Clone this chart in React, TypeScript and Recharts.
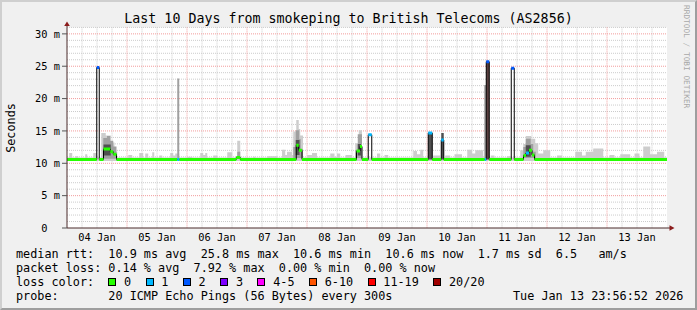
import React from 'react';
import { ComposedChart, Line, Area, XAxis, YAxis, CartesianGrid, ReferenceDot } from 'recharts';

// ---- axis / labels ----
const dayTicks = [12, 36, 60, 84, 108, 132, 156, 180, 204, 228];
const dayLabels = ['04 Jan', '05 Jan', '06 Jan', '07 Jan', '08 Jan', '09 Jan', '10 Jan', '11 Jan', '12 Jan', '13 Jan'];
const yTicks = [0, 5, 10, 15, 20, 25, 30];
const majorV = [24, 48, 72, 96, 120, 144, 168, 192, 216];
const minorV = [6, 12, 18, 30, 36, 42, 54, 60, 66, 78, 84, 90, 102, 108, 114, 126, 132, 138, 150, 156, 162, 174, 180, 186, 198, 204, 210, 222, 228, 234];
const majorH = [5, 10, 15, 20, 25, 30];
const minorH = [1, 2, 3, 4, 6, 7, 8, 9, 11, 12, 13, 14, 16, 17, 18, 19, 21, 22, 23, 24, 26, 27, 28, 29, 31];

// ---- loss classes ----
const lossLabels = ['0', '1', '2', '3', '4-5', '6-10', '11-19', '20/20'];
const lossColors = ['#26ff00', '#00b8ff', '#0059ff', '#7e00ff', '#ff00ff', '#ff5500', '#ff0000', '#a00000'];

// ---- median rtt (ms), change points in hours since 04 Jan 00:00 ----
const medT = [0, 11.9, 12.9, 14.6, 17.3, 18.5, 19.8, 44.1, 44.9, 67.7, 69.3, 91.7, 92.7, 94.0, 115.8, 117.2, 118.0, 120.5, 121.9, 144.5, 146.1, 149.7, 150.7, 167.1, 167.7, 168.9, 177.7, 178.9, 182.6, 183.6, 184.8, 186.0, 187.0, 240];
const medV = [10.6, 24.8, 10.6, 12.2, 11.8, 11.4, 10.6, 10.6, 10.6, 10.9, 10.6, 12.8, 12.0, 10.6, 11.9, 12.6, 10.6, 14.4, 10.6, 14.7, 10.6, 13.6, 10.6, 10.6, 25.7, 10.6, 24.7, 10.6, 11.2, 11.6, 12.0, 11.3, 10.6, 10.6];
const medLoss = [0, 2, 0, 0, 0, 0, 0, 1, 0, 0, 0, 0, 0, 0, 0, 0, 0, 1, 0, 1, 0, 1, 0, 1, 2, 0, 2, 0, 0, 1, 0, 0, 0, 0];

// ---- smoke: light outer band (upper edge), change points ----
const smokeFloor = 10.35;
const lightT = [0, 0.9, 2.1, 3.3, 4.5, 7.3, 8.1, 10.5, 11.9, 13.7, 15.5, 17.5, 19.0, 20.1, 24.5, 26.1, 28.9, 30.5, 31.3, 32.5, 34.1, 34.9, 36.9, 38.1, 41.3, 42.5, 43.3, 44.9, 48.1, 50.1, 53.3, 54.5, 55.3, 56.1, 58.5, 60.1, 64.1, 66.1, 68.1, 69.3, 74.5, 75.3, 80.1, 84.1, 86.0, 87.3, 88.0, 90.0, 90.5, 91.7, 92.7, 93.3, 94.4, 96.1, 98.0, 100.0, 105.3, 107.0, 108.0, 109.3, 111.4, 114.0, 115.3, 116.7, 118.0, 124.0, 125.3, 127.0, 128.5, 138.5, 140.0, 141.3, 142.5, 146.5, 149.3, 151.3, 153.3, 155.0, 158.0, 160.1, 162.0, 163.3, 166.5, 169.5, 171.0, 176.0, 177.5, 181.3, 182.5, 183.5, 185.7, 187.3, 188.5, 190.5, 193.3, 196.0, 198.0, 203.3, 206.0, 207.5, 210.5, 214.5, 217.0, 219.0, 221.3, 225.3, 227.0, 229.0, 230.5, 233.3, 236.0, 238.9, 240];
const lightHi = [10.9, 11.6, 10.9, 11.1, 10.9, 11.4, 10.9, 11.6, 10.9, 14.7, 14.3, 13.2, 11.8, 10.9, 11.3, 10.9, 11.6, 10.9, 11.5, 10.9, 11.7, 10.9, 11.2, 10.9, 11.6, 11.2, 11.5, 10.9, 11.0, 10.9, 11.6, 11.3, 11.6, 10.9, 11.2, 10.9, 11.7, 10.9, 13.5, 10.9, 11.0, 10.9, 11.1, 10.9, 12.1, 11.3, 11.8, 11.3, 14.9, 16.7, 15.3, 14.3, 10.9, 11.3, 11.6, 10.9, 11.5, 11.0, 11.5, 10.9, 11.3, 10.9, 13.1, 15.1, 10.9, 11.5, 10.9, 11.3, 10.9, 11.9, 11.4, 12.1, 10.9, 11.2, 10.9, 11.2, 10.9, 11.4, 10.9, 12.1, 11.5, 12.0, 10.9, 11.2, 10.9, 11.1, 10.9, 12.0, 13.0, 14.2, 13.8, 13.1, 11.5, 12.0, 10.9, 11.2, 10.9, 11.8, 11.2, 11.8, 12.3, 10.9, 11.3, 10.9, 11.4, 10.9, 11.5, 10.9, 12.6, 11.4, 11.8, 10.9, 10.9];

// ---- smoke: mid gray blocks ----
const midStart = [14.5, 16.0, 17.3, 18.5, 44.1, 68.1, 90.5, 91.5, 92.9, 93.5, 115.3, 116.3, 166.9, 182.5, 183.5, 185.5, 186.5];
const midEnd = [16.0, 17.3, 18.5, 19.8, 44.9, 69.3, 91.5, 92.9, 93.5, 94.4, 116.3, 118.0, 167.7, 183.5, 185.5, 186.5, 187.5];
const midLo = [10.7, 10.7, 10.7, 10.7, 10.6, 10.7, 10.8, 10.8, 10.8, 10.8, 10.8, 10.8, 10.6, 10.8, 10.8, 10.8, 10.8];
const midHi = [13.9, 14.2, 13.5, 12.6, 23.1, 11.8, 12.5, 15.1, 13.7, 12.2, 12.0, 14.5, 22.1, 12.5, 13.8, 13.0, 11.8];

// ---- smoke: dark core blocks ----
const darkStart = [14.6, 91.5, 116.3, 144.5, 149.7, 183.5];
const darkEnd = [17.5, 93.0, 117.6, 146.1, 150.7, 185.5];
const darkLo = [11.2, 11.3, 11.2, 10.6, 10.6, 11.0];
const darkHi = [12.9, 13.6, 13.0, 14.7, 14.7, 12.8];

// ---- smoke under the 25.7 ms spike (all-loss tint) ----
const lossSmokeStart = [167.7];
const lossSmokeEnd = [168.9];
const lossSmokeLo = [10.6];
const lossSmokeHi = [25.6];

// ---- series builders ----
const stepData = (ts: number[], vs: number[]) => ts.map((t, i) => ({ t, v: vs[i] }));
const lightData = lightT.map((t, i) => ({ t, r: [smokeFloor, lightHi[i]] }));
const blockData = (s: number[], e: number[], lo: number[], hi: number[]) => {
  const out: any[] = [];
  s.forEach((st, i) => {
    out.push({ t: st, r: [lo[i], hi[i]] });
    out.push({ t: e[i], r: [lo[i], hi[i]] });
    out.push({ t: e[i], r: null });
  });
  return out;
};
const midData = blockData(midStart, midEnd, midLo, midHi);
const darkData = blockData(darkStart, darkEnd, darkLo, darkHi);
const lossSmokeData = blockData(lossSmokeStart, lossSmokeEnd, lossSmokeLo, lossSmokeHi);
const medianData = stepData(medT, medV);
const lossSeries = lossColors.map((color, c) => {
  const pts: any[] = [];
  for (let i = 0; i < medT.length - 1; i++) {
    if (medLoss[i] === c) {
      pts.push({ t: medT[i], v: medV[i] });
      pts.push({ t: medT[i + 1], v: medV[i] });
      pts.push({ t: medT[i + 1], v: null });
    }
  }
  return { color, pts };
}).filter((s) => s.pts.length > 0);

const MONO = '"DejaVu Sans Mono", monospace';
const AXIS_COLOR = '#4b2a2a';
const ARROW_COLOR = '#8b1c1c';

const UpArrow = (p: any) => (
  <g>
    <line x1={p.cx} y1={p.cy} x2={p.cx} y2={p.cy - 2} stroke={AXIS_COLOR} strokeWidth={1} />
    <polygon points={`${p.cx},${p.cy - 6} ${p.cx - 2.8},${p.cy - 1.5} ${p.cx + 2.8},${p.cy - 1.5}`} fill={ARROW_COLOR} />
  </g>
);
const RightArrow = (p: any) => (
  <g>
    <line x1={p.cx} y1={p.cy} x2={p.cx + 3} y2={p.cy} stroke={AXIS_COLOR} strokeWidth={1} />
    <polygon points={`${p.cx + 7.5},${p.cy} ${p.cx + 2.5},${p.cy - 2.8} ${p.cx + 2.5},${p.cy + 2.8}`} fill={ARROW_COLOR} />
  </g>
);

const legendRows = [
  'median rtt:  10.9 ms avg  25.8 ms max  10.6 ms min  10.6 ms now  1.7 ms sd  6.5   am/s',
  'packet loss: 0.14 % avg  7.92 % max  0.00 % min  0.00 % now',
];
const probeText = 'probe:       20 ICMP Echo Pings (56 Bytes) every 300s';
const dateText = 'Tue Jan 13 23:56:52 2026';
const titleText = 'Last 10 Days from smokeping to British Telecoms (AS2856)';

export default function App() {
  const rowStyle = (top: number): React.CSSProperties => ({
    position: 'absolute', left: 16, top, height: 14, lineHeight: '14px', fontFamily: MONO,
    fontSize: 11.8, whiteSpace: 'pre', color: '#000',
  });
  return (
    <div style={{ position: 'absolute', left: 0, top: 0, width: 697, height: 310, background: '#f0f0f0', overflow: 'hidden' }}>
      <div style={{ position: 'absolute', left: 0, top: 0, width: 697, height: 310 }}>
        <ComposedChart width={697} height={310} margin={{ top: 27.4, right: 30, bottom: 62, left: 0 }}>
          <CartesianGrid fill="#ffffff" fillOpacity={1} stroke="#cccccc" strokeDasharray="1 1"
            horizontalValues={minorH} verticalValues={minorV} />
          <CartesianGrid stroke="#f29c9c" strokeDasharray="1 1" horizontalValues={majorH} verticalValues={majorV} />
          <XAxis type="number" dataKey="t" domain={[0, 240]} allowDataOverflow ticks={dayTicks}
            tickFormatter={(v: number) => dayLabels[dayTicks.indexOf(v)]}
            height={20} tickLine={false} tickSize={0} tickMargin={6} interval={0}
            axisLine={{ stroke: AXIS_COLOR }}
            tick={{ fontFamily: MONO, fontSize: 10.35, fill: '#000' }} />
          <YAxis type="number" domain={[0, 31]} allowDataOverflow ticks={yTicks} width={67} interval={0}
            tickFormatter={(v: number) => (v === 0 ? '0\u00a0\u00a0' : `${v} m`)}
            tickSize={5} tickMargin={2} tickLine={{ stroke: '#555' }} axisLine={{ stroke: AXIS_COLOR }}
            tick={{ fontFamily: MONO, fontSize: 10.35, fill: '#000' }} />
          <Area data={lightData} dataKey="r" type="stepAfter" stroke="none" fill="#cdcdcd" fillOpacity={1} isAnimationActive={false} />
          <Area data={midData} dataKey="r" type="stepAfter" stroke="none" fill="#a0a0a0" fillOpacity={1} isAnimationActive={false} />
          <Area data={darkData} dataKey="r" type="stepAfter" stroke="none" fill="#505050" fillOpacity={1} isAnimationActive={false} />
          <Area data={lossSmokeData} dataKey="r" type="stepAfter" stroke="none" fill="#5a4040" fillOpacity={1} isAnimationActive={false} />
          <Line data={medianData} dataKey="v" type="stepAfter" stroke="#000000" strokeWidth={1} dot={false} isAnimationActive={false} />
          {lossSeries.map((s, i) => (
            <Line key={i} data={s.pts} dataKey="v" type="linear" stroke={s.color} strokeWidth={3} dot={false}
              connectNulls={false} isAnimationActive={false} />
          ))}
          <ReferenceDot x={0} y={31} r={0} ifOverflow="visible" shape={UpArrow} />
          <ReferenceDot x={240} y={0} r={0} ifOverflow="visible" shape={RightArrow} />
        </ComposedChart>
      </div>
      <div style={{ position: 'absolute', left: 0, top: 11.4, width: 697, textAlign: 'center', fontFamily: MONO, fontSize: 13.3, lineHeight: '16px', whiteSpace: 'pre' }}>
        {titleText}
      </div>
      <div style={{ position: 'absolute', left: -39, top: 121, width: 100, height: 14, lineHeight: '14px', textAlign: 'center', fontFamily: MONO, fontSize: 11.8, transform: 'rotate(-90deg)' }}>
        Seconds
      </div>
      <div style={{ position: 'absolute', left: 682, top: 5, writingMode: 'vertical-rl', fontFamily: MONO, fontSize: 7.8, color: '#a8a8a8', whiteSpace: 'pre' }}>
        RRDTOOL / TOBI OETIKER
      </div>
      <div style={rowStyle(247.4)}>{legendRows[0]}</div>
      <div style={rowStyle(261.4)}>{legendRows[1]}</div>
      <div style={{ ...rowStyle(275.4), display: 'flex', alignItems: 'center' }}>
        <span style={{ width: 92.3, display: 'inline-block' }}>loss color:</span>
        {lossLabels.map((l, i) => (
          <React.Fragment key={l}>
            <span style={{ display: 'inline-block', boxSizing: 'border-box', width: 8, height: 8, background: lossColors[i], border: '1px solid #000', marginRight: 7.7 }} />
            <span style={{ marginRight: 14.5 }}>{l}</span>
          </React.Fragment>
        ))}
      </div>
      <div style={rowStyle(289.4)}>{probeText}</div>
      <div style={{ ...rowStyle(289.4), left: 513 }}>{dateText}</div>
      <div style={{ position: 'absolute', left: 0, top: 0, width: 697, height: 310, boxSizing: 'border-box', borderStyle: 'solid', borderWidth: 2, borderColor: '#cfcfcf #9e9e9e #9e9e9e #cfcfcf', pointerEvents: 'none' }} />
    </div>
  );
}
